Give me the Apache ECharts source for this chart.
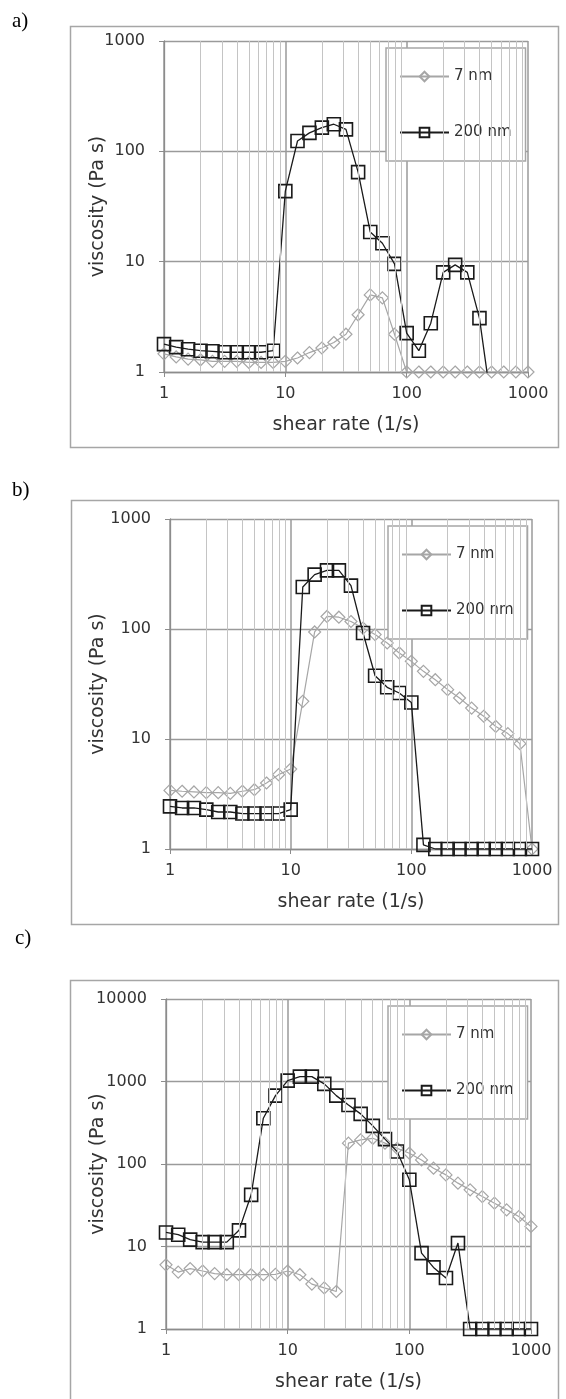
<!DOCTYPE html>
<html>
<head>
<meta charset="utf-8">
<script src="https://cdn.jsdelivr.net/npm/echarts@6/dist/echarts.min.js"></script>
<style>
html, body { margin: 0; padding: 0; background: #fff; }
#chart { width: 566px; height: 1399px; }
</style>
</head>
<body>
<div id="chart"></div>
<script>
// shear rate steps, 10 per decade
const shearRate = [1, 1.26, 1.58, 2, 2.51, 3.16, 3.98, 5.01, 6.31, 7.94,
    10, 12.6, 15.8, 20, 25.1, 31.6, 39.8, 50.1, 63.1, 79.4,
    100, 126, 158, 200, 251, 316, 398, 501, 631, 794, 1000];

// a)
const a7nm = [1.46, 1.37, 1.31, 1.29, 1.25, 1.25, 1.25, 1.22, 1.22, 1.22,
    1.25, 1.34, 1.5, 1.65, 1.85, 2.2, 3.3, 5.0, 4.7, 2.2,
    1, 1, 1, 1, 1, 1, 1, 1, 1, 1, 1];
const a200nm = [1.79, 1.68, 1.61, 1.56, 1.54, 1.51, 1.51, 1.51, 1.51, 1.56,
    43.6, 124, 147, 164, 176, 158, 64.8, 18.6, 14.7, 9.55,
    2.25, 1.56, 2.77, 8.0, 9.35, 8.0, 3.08, 0.5, null, null, null];

// b)
const b7nm = [3.41, 3.35, 3.3, 3.25, 3.25, 3.2, 3.35, 3.46, 3.98, 4.74,
    5.33, 22, 94, 130, 128, 117, 102, 89, 74.6, 60.5,
    50.8, 41.2, 34.6, 28.1, 23.6, 19.1, 16.1, 13.0, 11.2, 9.07, 1.0];
const b200nm = [2.44, 2.36, 2.36, 2.28, 2.17, 2.17, 2.10, 2.10, 2.10, 2.10,
    2.28, 241, 312, 341, 341, 248, 92, 37.6, 29.5, 26.2,
    21.5, 1.09, 1, 1, 1, 1, 1, 1, 1, 1, 1];

// c)
const c7nm = [6.0, 4.9, 5.4, 5.05, 4.7, 4.55, 4.55, 4.55, 4.55, 4.6,
    5.05, 4.55, 3.5, 3.15, 2.85, 179, 196, 205, 179, 155,
    135, 112, 89, 73.8, 58.6, 48.6, 40.3, 33.5, 27.8, 23.1, 17.5];
const c200nm = [14.8, 13.9, 12.1, 11.3, 11.3, 11.3, 15.7, 42.3, 359, 675,
    1025, 1146, 1146, 935, 674, 520, 405, 290, 200, 142,
    64.3, 8.32, 5.58, 4.15, 11.0, 1, 1, 1, 1, 1, 1];

const minorRates = [2, 3, 4, 5, 6, 7, 8, 9, 20, 30, 40, 50, 60, 70, 80, 90,
    200, 300, 400, 500, 600, 700, 800, 900];
const seriesNames = ['7 nm', '200 nm'];
const panelLabels = ['a)', 'b)', 'c)'];
const yMaxes = [1000, 1000, 10000];

// layout of the three panels
const panels = [
    { grid: { left: 164, top: 41, width: 364, height: 331 }, legend: [386, 48], box: [68, 24, 488, 421], lab: [12, 11] },
    { grid: { left: 170, top: 519, width: 362, height: 330 }, legend: [388, 526], box: [69, 498, 487, 424], lab: [12, 480] },
    { grid: { left: 166, top: 999, width: 365, height: 330 }, legend: [388, 1006], box: [68, 978, 488, 420], lab: [15, 928] }
];
const panelData = [[a7nm, a200nm], [b7nm, b200nm], [c7nm, c200nm]];

const font = 'DejaVu Sans';
const textCol = '#333';

function pairs(vals) {
    return shearRate.map((x, i) => [x, vals[i]]);
}

let grids = [], xAxes = [], yAxes = [], series = [], legends = [], graphics = [];

panels.forEach((p, i) => {
    grids.push(p.grid);
    xAxes.push({
        type: 'log', logBase: 10, min: 1, max: 1000, gridIndex: i,
        name: 'shear rate (1/s)', nameLocation: 'middle', nameGap: 44, nameMoveOverlap: false,
        nameTextStyle: { fontFamily: font, fontSize: 19, color: textCol },
        axisLine: { lineStyle: { color: '#8c8c8c', width: 1.3 } },
        axisTick: { show: true, length: 5, lineStyle: { color: '#8c8c8c' } },
        axisLabel: { fontFamily: font, fontSize: 16, color: textCol, margin: 14, formatter: v => String(v) },
        splitLine: { show: true, lineStyle: { color: '#9a9a9a', width: 1.5 } }
    });
    yAxes.push({
        type: 'log', logBase: 10, min: 1, max: yMaxes[i], gridIndex: i,
        name: 'viscosity (Pa s)', nameLocation: 'middle', nameGap: p.grid.left - 97 - 11, nameMoveOverlap: false,
        nameTextStyle: { fontFamily: font, fontSize: 19, color: textCol },
        axisLine: { lineStyle: { color: '#8c8c8c', width: 1.3 } },
        axisTick: { show: true, length: 5, lineStyle: { color: '#8c8c8c' } },
        axisLabel: { fontFamily: font, fontSize: 16, color: textCol, margin: 19, formatter: v => String(v) },
        splitLine: { show: true, lineStyle: { color: '#9a9a9a', width: 1.3 } }
    });
    // minor vertical grid lines
    series.push({
        name: 'minor', type: 'line', data: [], xAxisIndex: i, yAxisIndex: i, z: 1,
        markLine: {
            silent: true, symbol: ['none', 'none'], label: { show: false },
            lineStyle: { color: '#c4c4c4', width: 1, type: 'solid' },
            emphasis: { disabled: true },
            data: minorRates.map(v => ({ xAxis: v }))
        }
    });
    series.push({
        name: seriesNames[0], type: 'line', xAxisIndex: i, yAxisIndex: i, z: 2,
        data: pairs(panelData[i][0]),
        symbol: 'diamond', symbolSize: [12, 12],
        itemStyle: { color: 'rgba(0,0,0,0)', borderColor: '#a6a6a6', borderWidth: 1.2 },
        lineStyle: { color: '#a6a6a6', width: 1.2 }
    });
    series.push({
        name: seriesNames[1], type: 'line', xAxisIndex: i, yAxisIndex: i, z: 3,
        data: pairs(panelData[i][1]), connectNulls: false,
        symbol: 'rect', symbolSize: 13,
        itemStyle: { color: 'rgba(0,0,0,0)', borderColor: '#1a1a1a', borderWidth: 1.6 },
        lineStyle: { color: '#1a1a1a', width: 1.3 }
    });
    legends.push({
        orient: 'vertical', left: p.legend[0], top: p.legend[1],
        padding: [21, 14, 21, 13], itemGap: 41, itemWidth: 49, itemHeight: 12,
        backgroundColor: '#fff', borderColor: '#a6a6a6', borderWidth: 1.5,
        selectedMode: false, data: seriesNames,
        textStyle: { fontFamily: font, fontSize: 15, color: textCol }
    });
    graphics.push({
        type: 'rect', left: p.box[0], top: p.box[1], z: -1, silent: true,
        shape: { width: p.box[2], height: p.box[3] },
        style: { fill: 'none', stroke: '#a6a6a6', lineWidth: 1.5 }
    });
    graphics.push({
        type: 'text', left: p.lab[0], top: p.lab[1], silent: true,
        style: { text: panelLabels[i], fontFamily: 'Liberation Serif', fontSize: 21, fill: '#000' }
    });
});

let myChart = echarts.init(document.getElementById('chart'));
myChart.setOption({
    animation: false,
    backgroundColor: '#fff',
    grid: grids,
    xAxis: xAxes,
    yAxis: yAxes,
    legend: legends,
    series: series,
    graphic: graphics
});
</script>
</body>
</html>
